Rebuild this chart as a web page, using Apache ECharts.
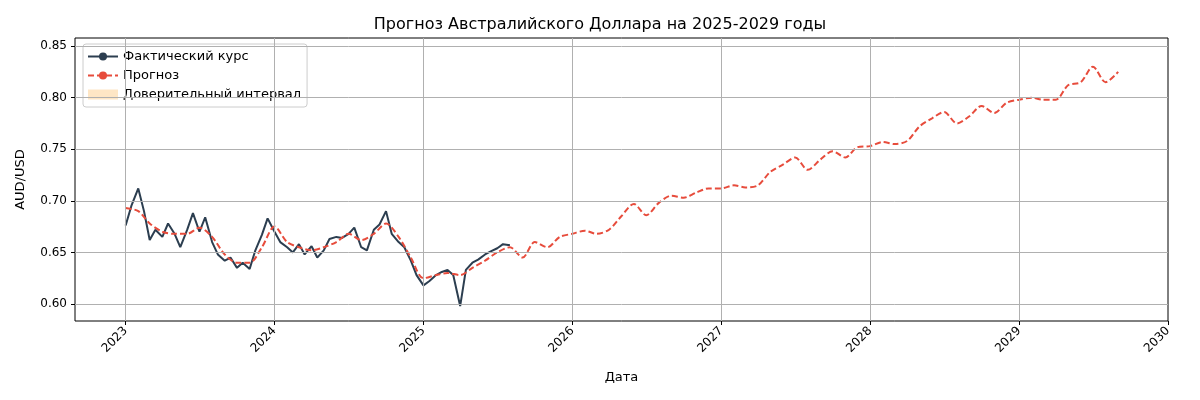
<!DOCTYPE html>
<html><head><meta charset="utf-8">
<script src="https://cdn.jsdelivr.net/npm/echarts@6/dist/echarts.min.js"></script>
<style>html,body{margin:0;padding:0;background:#fff}#c{width:1200px;height:400px}</style>
</head><body><div id="c"></div>
<script>
// Actual rate, two points per month (1st and 15th), starting 2023-01
const actualStart = [2023, 0];
const actualVals = [
0.676,0.695, 0.712,0.690, 0.662,0.672, 0.665,0.678, 0.668,0.655, 0.672,0.688, 0.670,0.684, 0.660,0.648,
0.642,0.645, 0.635,0.640, 0.634,0.652, 0.667,0.683,
0.670,0.660, 0.655,0.650, 0.658,0.648, 0.656,0.645, 0.652,0.663, 0.665,0.664, 0.668,0.674, 0.655,0.652,
0.672,0.677, 0.690,0.668, 0.660,0.655, 0.642,0.628,
0.618,0.622, 0.628,0.631, 0.633,0.628, 0.598,0.633, 0.640,0.643, 0.648,0.651, 0.654,0.658, 0.657
];
// Forecast, monthly (1st of month), starting 2023-01
const forecastStart = [2023, 0];
const forecastVals = [
0.693,0.690,0.678,0.670,0.668,0.668,0.674,0.665,0.648,0.640,0.640,0.655,
0.675,0.660,0.655,0.652,0.655,0.660,0.668,0.662,0.668,0.678,0.665,0.645,
0.625,0.628,0.630,0.628,0.635,0.642,0.650,0.655,0.645,0.660,0.655,0.665,
0.668,0.671,0.668,0.672,0.685,0.697,0.686,0.698,0.705,0.703,0.708,0.712,
0.712,0.715,0.713,0.715,0.728,0.735,0.742,0.730,0.740,0.748,0.742,0.752,
0.753,0.757,0.755,0.758,0.772,0.780,0.786,0.775,0.782,0.792,0.785,0.795,
0.798,0.800,0.798,0.798,0.812,0.815,0.830,0.815,0.825
];
// Confidence half-width, monthly, starting 2025-08
const bandStart = [2025, 7];
const bandHalf = [
0.002,0.002,0.003,0.003,0.003,0.004,0.004,0.004,0.005,0.005,0.005,0.006,0.006,0.006,0.007,0.007,0.007,
0.008,0.008,0.008,0.009,0.009,0.009,0.010,0.010,0.010,0.011,0.011,0.011,
0.012,0.012,0.012,0.013,0.013,0.013,0.014,0.014,0.014,0.015,0.015,0.015,
0.016,0.016,0.016,0.016,0.017,0.017,0.017,0.018,0.018,0.018,0.018,0.018,0.018
];
const yTicks = [0.60,0.65,0.70,0.75,0.80,0.85];
const xYears = [2023,2024,2025,2026,2027,2028,2029,2030];

// dates -> fractional years
const fy = (y,m,d) => { const t=Date.UTC(y,m,d); const yy=new Date(t).getUTCFullYear();
  const a=Date.UTC(yy,0,1), b=Date.UTC(yy+1,0,1); return yy+(t-a)/(b-a); };
const actual = actualVals.map((v,i)=>[fy(actualStart[0], actualStart[1]+Math.floor(i/2), i%2?15:1), v]);
const fDate = i => fy(forecastStart[0], forecastStart[1]+i, 1);
const forecast = forecastVals.map((v,i)=>[fDate(i), v]);
const off = (bandStart[0]-forecastStart[0])*12 + bandStart[1]-forecastStart[1];
const lower = bandHalf.map((h,i)=>[fDate(off+i), forecastVals[off+i]-h]);
const width = bandHalf.map((h,i)=>[fDate(off+i), 2*h]);

const chart = echarts.init(document.getElementById('c'));
const font = 'DejaVu Sans';
chart.setOption({
  animation:false,
  textStyle:{fontFamily:font},
  title:{text:'Прогноз Австралийского Доллара на 2025-2029 годы',left:'center',top:12,
    textStyle:{fontFamily:font,fontSize:16,fontWeight:'normal',color:'#000'}},
  grid:{left:75,right:32,top:38,bottom:79,show:true,borderColor:'#000',borderWidth:1},
  legend:{left:83,top:44,orient:'vertical',itemGap:6,itemWidth:30,itemHeight:10,
    backgroundColor:'rgba(255,255,255,0.85)',borderColor:'#ccc',borderWidth:1,borderRadius:3,padding:[6,6,6,4],
    textStyle:{fontFamily:font,fontSize:13,color:'#000'},
    data:[{name:'Фактический курс'},{name:'Прогноз'},{name:'Доверительный интервал',icon:'rect'}]},
  xAxis:{type:'value',min:2022.66,max:2030,
    name:'Дата',nameLocation:'middle',nameGap:50,nameTextStyle:{fontSize:13,color:'#000'},
    axisLine:{show:false},splitLine:{show:false},
    axisTick:{show:true,customValues:xYears,length:4,lineStyle:{color:'#000'}},
    axisLabel:{customValues:xYears,rotate:45,fontSize:12,color:'#000',margin:8,formatter:v=>String(Math.round(v))}},
  yAxis:{type:'value',min:0.5835,max:0.8578,
    name:'AUD/USD',nameLocation:'middle',nameGap:48,nameTextStyle:{fontSize:13,color:'#000'},
    axisLine:{show:false},splitLine:{show:false},
    axisTick:{show:true,customValues:yTicks,length:4,lineStyle:{color:'#000'}},
    axisLabel:{customValues:yTicks,fontSize:12,color:'#000',formatter:v=>v.toFixed(2)}},
  series:[
    {name:'grid',type:'line',data:[],silent:true,
      markLine:{silent:true,symbol:'none',label:{show:false},lineStyle:{color:'#b0b0b0',width:1,type:'solid'},
        data:[...xYears.slice(0,-1).map(x=>({xAxis:x})),...yTicks.map(y=>({yAxis:y}))]}},
    {name:'lower',type:'line',data:lower,stack:'band',symbol:'none',lineStyle:{opacity:0},silent:true},
    {name:'Доверительный интервал',type:'line',data:width,stack:'band',symbol:'none',
      lineStyle:{opacity:0},itemStyle:{color:'rgba(253,205,140,0.5)'},areaStyle:{color:'rgba(253,205,140,0.45)'}},
    {name:'Фактический курс',type:'line',data:actual,symbol:'none',
      lineStyle:{color:'#2c3e50',width:2},itemStyle:{color:'#2c3e50'}},
    {name:'Прогноз',type:'line',data:forecast,symbol:'none',smooth:0.3,
      lineStyle:{color:'#e74c3c',width:2,type:[6,3]},itemStyle:{color:'#e74c3c'}}
  ]
});
</script></body></html>
